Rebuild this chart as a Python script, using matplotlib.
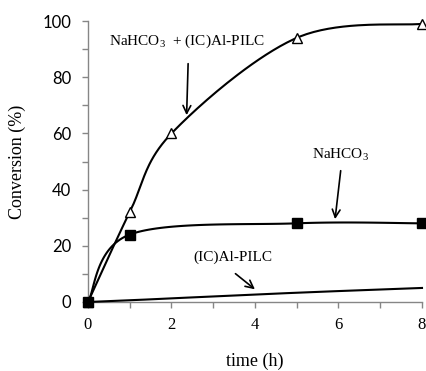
import numpy as np
import matplotlib
matplotlib.use("Agg")
import matplotlib.pyplot as plt
from matplotlib.ticker import MultipleLocator

# Data
t_both = [0, 1, 2, 5, 8]
conv_both = [0, 32, 60, 94, 99]
t_nahco3 = [0, 1, 5, 8]
conv_nahco3 = [0, 24, 28, 28]
t_pilc = [0, 1, 2, 5, 8]
conv_pilc = [0, 0.6, 1.3, 3.3, 5.0]

label_both = "NaHCO$_3$  + (IC)Al-PILC"
label_nahco3 = "NaHCO$_3$"
label_pilc = "(IC)Al-PILC"

plt.rcParams["mathtext.fontset"] = "custom"
plt.rcParams["mathtext.rm"] = "Liberation Serif"
plt.rcParams["mathtext.it"] = "Liberation Serif:italic"
plt.rcParams["mathtext.bf"] = "Liberation Serif:bold"
plt.rcParams["mathtext.default"] = "rm"


def smooth(x, y, n=40):
    """Excel-like smoothed line (Catmull-Rom style Bezier)."""
    x = np.asarray(x, float)
    y = np.asarray(y, float)
    P = np.column_stack([x, y])
    out = []
    m = len(P)
    for i in range(m - 1):
        p0 = P[i - 1] if i > 0 else P[i]
        p1 = P[i]
        p2 = P[i + 1]
        p3 = P[i + 2] if i + 2 < m else P[i + 1]
        c1 = p1 + (p2 - p0) / 6.0
        c2 = p2 - (p3 - p1) / 6.0
        s = np.linspace(0, 1, n)[:, None]
        seg = ((1 - s) ** 3) * p1 + 3 * ((1 - s) ** 2) * s * c1 + 3 * (1 - s) * s ** 2 * c2 + s ** 3 * p2
        out.append(seg if i == 0 else seg[1:])
    seg = np.vstack(out)
    return seg[:, 0], seg[:, 1]


fig = plt.figure(figsize=(4.27, 3.71), dpi=100)
ax = fig.add_axes([88 / 427, 69 / 371, (422 - 88) / 427, (302 - 21) / 371])

serif = "Liberation Serif"
sans = "Lato"

xs, ys = smooth(t_both, conv_both)
ax.plot(xs, ys, color="black", lw=1.5, clip_on=False, zorder=3)
ax.plot(t_both, conv_both, ls="none", marker="^", ms=7, mfc="white", mec="black",
        mew=1.0, clip_on=False, zorder=4)

xs, ys = smooth(t_nahco3, conv_nahco3)
ax.plot(xs, ys, color="black", lw=1.5, clip_on=False, zorder=3)
ax.plot(t_nahco3, conv_nahco3, ls="none", marker="s", ms=7, mfc="black", mec="black",
        clip_on=False, zorder=5)

xs, ys = smooth(t_pilc, conv_pilc)
ax.plot(xs, ys, color="black", lw=1.5, clip_on=False, zorder=3)

ax.set_xlim(0, 8)
ax.set_ylim(0, 100)
ax.xaxis.set_major_locator(MultipleLocator(2))
ax.xaxis.set_minor_locator(MultipleLocator(1))
ax.yaxis.set_major_locator(MultipleLocator(20))
ax.yaxis.set_minor_locator(MultipleLocator(10))

for s in ["top", "right"]:
    ax.spines[s].set_visible(False)
for s in ["left", "bottom"]:
    ax.spines[s].set_color("#868686")
    ax.spines[s].set_linewidth(1.0)

ax.tick_params(which="both", direction="out", color="#868686", width=1.0)
ax.tick_params(which="major", length=4)
ax.tick_params(which="minor", length=4)
ax.tick_params(axis="x", pad=7)
ax.tick_params(axis="y", pad=8)

for lab in ax.get_xticklabels():
    lab.set_fontfamily(serif)
    lab.set_fontsize(12)
for lab in ax.get_yticklabels():
    lab.set_fontfamily(sans)
    lab.set_fontsize(12)

ax.set_xlabel("time (h)", fontfamily=serif, fontsize=13, labelpad=14)
ax.set_ylabel("Conversion (%)", fontfamily=serif, fontsize=13, labelpad=12)

arrow = dict(arrowstyle="->", color="black", lw=1.2, mutation_scale=14)
tfont = dict(fontfamily=serif, fontsize=11)
ax.annotate("", xy=(2.36, 65.5), xytext=(2.40, 85.8), arrowprops=arrow)
ax.text(2.38, 92.9, label_both, ha="center", va="center", **tfont)
ax.annotate("", xy=(5.91, 28.5), xytext=(6.06, 47.7), arrowprops=arrow)
ax.text(6.05, 52.3, label_nahco3, ha="center", va="center", **tfont)
ax.annotate("", xy=(4.05, 3.9), xytext=(3.48, 10.7), arrowprops=arrow)
ax.text(3.46, 16.0, label_pilc, ha="center", va="center", **tfont)

fig.savefig("out.png", dpi=100)
